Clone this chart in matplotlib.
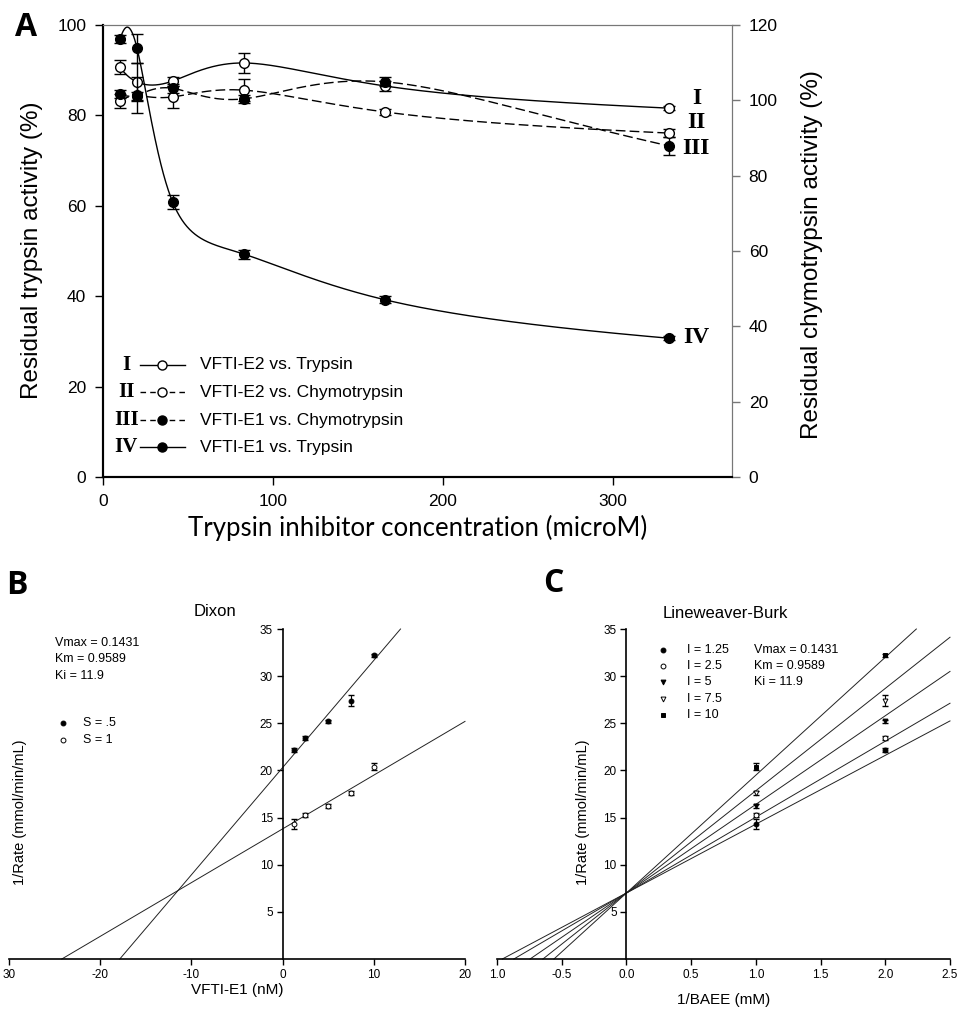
import numpy as np
import matplotlib
matplotlib.use("Agg")
import matplotlib.pyplot as plt
from matplotlib.lines import Line2D

plt.rcParams['font.family'] = ['Liberation Sans', 'DejaVu Sans']
plt.rcParams['axes.unicode_minus'] = False

# ---------------- Data: panel A ----------------
conc = [10, 20, 41, 83, 166, 333]
e2_trypsin = [90.7, 87.4, 87.6, 91.6, 86.5, 81.6]        # left axis
e2_trypsin_err = [1.6, 4.2, 1.0, 2.2, 1.0, 0.5]
e2_chymo = [99.8, 101.2, 100.9, 102.7, 96.9, 91.3]        # right axis
e2_chymo_err = [1.9, 1.0, 3.0, 2.9, 0.8, 1.0]
e1_chymo = [101.7, 101.4, 103.2, 100.4, 104.9, 87.9]      # right axis
e1_chymo_err = [1.0, 4.7, 1.2, 1.1, 1.2, 2.4]
e1_trypsin = [96.9, 94.9, 60.8, 49.3, 39.2, 30.7]         # left axis
e1_trypsin_err = [0.8, 3.2, 1.5, 1.0, 0.8, 0.5]
legend_numerals = ['I', 'II', 'III', 'IV']
legend_labels = ['VFTI-E2 vs. Trypsin', 'VFTI-E2 vs. Chymotrypsin',
                 'VFTI-E1 vs. Chymotrypsin', 'VFTI-E1 vs. Trypsin']

# ---------------- Data: panels B, C ----------------
inhibitor = [1.25, 2.5, 5, 7.5, 10]
rate_S05 = [22.2, 23.4, 25.2, 27.4, 32.2]
rate_S05_err = [0.2, 0.2, 0.2, 0.6, 0.2]
rate_S1 = [14.3, 15.3, 16.2, 17.6, 20.4]
rate_S1_err = [0.5, 0.2, 0.2, 0.2, 0.4]
dixon_intercepts = [20.3, 13.8]     # S = .5, S = 1
dixon_slopes = [1.137, 0.570]
lb_x = [1.0, 2.0]                   # 1/BAEE for S=1 and S=.5
lb_intercept = 7.0
lb_slopes = [7.3, 8.05, 9.4, 10.85, 12.5]  # I = 1.25 ... 10
kin_text = ['Vmax = 0.1431', 'Km = 0.9589', 'Ki = 11.9']

W, H = 958, 1011
fig = plt.figure(figsize=(W / 100, H / 100), dpi=100)
fx = lambda px: px / W
fy = lambda py: 1 - py / H


def natural_spline(x, y, xs):
    x = np.asarray(x, float); y = np.asarray(y, float)
    n = len(x); h = np.diff(x)
    A = np.zeros((n, n)); b = np.zeros(n)
    A[0, 0] = 1; A[-1, -1] = 1
    for i in range(1, n - 1):
        A[i, i - 1] = h[i - 1]; A[i, i] = 2 * (h[i - 1] + h[i]); A[i, i + 1] = h[i]
        b[i] = 3 * ((y[i + 1] - y[i]) / h[i] - (y[i] - y[i - 1]) / h[i - 1])
    c = np.linalg.solve(A, b)
    out = np.empty_like(xs)
    for k, xv in enumerate(xs):
        i = min(max(np.searchsorted(x, xv) - 1, 0), n - 2)
        t = xv - x[i]
        bi = (y[i + 1] - y[i]) / h[i] - h[i] * (2 * c[i] + c[i + 1]) / 3
        di = (c[i + 1] - c[i]) / (3 * h[i])
        out[k] = y[i] + bi * t + c[i] * t ** 2 + di * t ** 3
    return out


def smooth_curve(x, y, n=800):
    # spline through the points, parameterised on log concentration
    lx = np.log10(np.asarray(x, float))
    ls = np.linspace(lx[0], lx[-1], n)
    return 10 ** ls, natural_spline(lx, y, ls)


# ================= Panel A =================
ax = fig.add_axes([fx(103), fy(477), 629 / W, 452 / H])
ax.set_xlim(0, 370)
ax.set_ylim(0, 100)
ax2 = ax.twinx()
ax2.set_ylim(0, 120)

dash = (7, 3)
series = [
    (ax, e2_trypsin, e2_trypsin_err, 'white', None),
    (ax2, e2_chymo, e2_chymo_err, 'white', dash),
    (ax2, e1_chymo, e1_chymo_err, 'black', dash),
    (ax, e1_trypsin, e1_trypsin_err, 'black', None),
]
for a, vals, err, fc, ds in series:
    cx, cy = smooth_curve(conc, vals)
    ln, = a.plot(cx, cy, color='black', lw=1.0, zorder=2)
    if ds:
        ln.set_dashes(ds)
    a.errorbar(conc, vals, yerr=err, fmt='none', ecolor='black', elinewidth=1.0,
               capsize=4.5, capthick=1.0, zorder=3)
    a.plot(conc, vals, 'o', ms=7, mfc=fc, mec='black', mew=1.0, zorder=4)

for a in (ax, ax2):
    a.spines['top'].set_color('#777777')
    a.spines['right'].set_color('#777777')
    a.spines['left'].set_linewidth(1.5)
    a.spines['bottom'].set_linewidth(1.5)
ax.set_xticks([0, 100, 200, 300])
ax.set_yticks([0, 20, 40, 60, 80, 100])
ax2.set_yticks([0, 20, 40, 60, 80, 100, 120])
ax.tick_params(axis='both', direction='out', length=6, width=1, labelsize=12.5, pad=6)
ax2.tick_params(axis='y', direction='out', length=6, width=1, color='#777777',
                labelsize=12.5, pad=6)

serif = ['Liberation Serif', 'DejaVu Serif']
# right-side numerals
for num, yv in zip(['I', 'II', 'III', 'IV'], [83.8, 78.5, 72.6, 30.8]):
    ax.text(349, yv, num, family=serif, fontweight='bold', fontsize=17,
            ha='center', va='center', clip_on=False)

# legend
rows = [0.248, 0.188, 0.126, 0.066]
for (a, vals, err, fc, ds), num, lab, ry in zip(series, legend_numerals, legend_labels, rows):
    ax.text(0.037, ry, num, transform=ax.transAxes, family=serif, fontweight='bold',
            fontsize=15, ha='center', va='center')
    ln, = ax.plot([0.059, 0.130], [ry, ry], transform=ax.transAxes, color='black', lw=1.0)
    if ds:
        ln.set_dashes((4, 3))
    ax.plot([0.094], [ry], 'o', transform=ax.transAxes, ms=6.5, mfc=fc, mec='black', mew=1.0)
    ax.text(0.154, ry, lab, transform=ax.transAxes, fontsize=12.5, ha='left', va='center')

fig.text(fx(32), fy(250), 'Residual trypsin activity (%)', rotation=90,
         ha='center', va='center', fontsize=17.5)
fig.text(fx(812), fy(255), 'Residual chymotrypsin activity (%)', rotation=90,
         ha='center', va='center', fontsize=17.5)
fig.text(fx(418), fy(528), 'Trypsin inhibitor concentration (microM)',
         ha='center', va='center', fontsize=18.5, family=['Lato', 'DejaVu Sans'])

# panel letters
for letter, (px, py) in zip('ABC', [(26, 27), (17, 585), (553, 583)]):
    fig.text(fx(px), fy(py), letter, ha='center', va='center', fontsize=23,
             fontweight='bold', family=['Open Sans', 'DejaVu Sans'])


def style_kinetic(a):
    a.spines['top'].set_visible(False)
    a.spines['right'].set_visible(False)
    a.spines['left'].set_position(('data', 0))
    a.spines['left'].set_linewidth(1.2)
    a.spines['bottom'].set_linewidth(1.2)
    a.set_ylim(0, 35)
    a.set_yticks([5, 10, 15, 20, 25, 30, 35])
    a.tick_params(axis='both', direction='out', length=4, width=1, labelsize=8.5, pad=3)


# ================= Panel B: Dixon =================
axb = fig.add_axes([fx(9), fy(959), 456 / W, 330 / H])
axb.set_xlim(-30, 20)
style_kinetic(axb)
axb.set_xticks([-30, -20, -10, 0, 10, 20])
axb.set_xticklabels(['30', '-20', '-10', '0', '10', '20'])
for icpt, slope in zip(dixon_intercepts, dixon_slopes):
    x0 = -icpt / slope
    x1 = min(20, (35 - icpt) / slope)
    xl = np.array([x0, x1])
    axb.plot(xl, icpt + slope * xl, color='#222222', lw=0.7, clip_on=False)
axb.errorbar(inhibitor, rate_S05, yerr=rate_S05_err, fmt='none', ecolor='black',
             elinewidth=0.8, capsize=2.5)
axb.errorbar(inhibitor, rate_S1, yerr=rate_S1_err, fmt='none', ecolor='black',
             elinewidth=0.8, capsize=2.5)
axb.plot(inhibitor, rate_S05, 'o', ms=3.5, mfc='black', mec='black', mew=0.7)
axb.plot(inhibitor, rate_S1, 'o', ms=3.5, mfc='white', mec='black', mew=0.7)

fig.text(fx(215), fy(612), 'Dixon', ha='center', va='center', fontsize=12)
fig.text(fx(20), fy(812), '1/Rate (mmol/min/mL)', rotation=90, ha='center',
         va='center', fontsize=10.5)
fig.text(fx(237), fy(990), 'VFTI-E1 (nM)', ha='center', va='center', fontsize=11)
for t, py in zip(kin_text, [643, 659, 676]):
    fig.text(fx(55), fy(py), t, ha='left', va='center', fontsize=9)
for (lab, fc), py in zip([('S = .5', 'black'), ('S = 1', 'white')], [723, 740]):
    fig.add_artist(Line2D([fx(63)], [fy(py)], marker='o', ms=3.5, mfc=fc, mec='black',
                          mew=0.7, transform=fig.transFigure))
    fig.text(fx(83), fy(py), lab, ha='left', va='center', fontsize=9)

# ================= Panel C: Lineweaver-Burk =================
axc = fig.add_axes([fx(497), fy(959), 453 / W, 330 / H])
axc.set_xlim(-1.0, 2.5)
style_kinetic(axc)
axc.set_xticks([-1.0, -0.5, 0.0, 0.5, 1.0, 1.5, 2.0, 2.5])
axc.set_xticklabels(['1.0', '-0.5', '0.0', '0.5', '1.0', '1.5', '2.0', '2.5'])
for slope in lb_slopes:
    x0 = -lb_intercept / slope
    x1 = min(2.5, (35 - lb_intercept) / slope)
    xl = np.array([x0, x1])
    axc.plot(xl, lb_intercept + slope * xl, color='#222222', lw=0.7, clip_on=False)

c_markers = ['o', 'o', 'v', 'v', 's']
c_faces = ['black', 'white', 'black', 'white', 'black']
c_labels = ['I = 1.25', 'I = 2.5', 'I = 5', 'I = 7.5', 'I = 10']
for i in range(len(inhibitor)):
    yv = [rate_S1[i], rate_S05[i]]
    ye = [rate_S1_err[i], rate_S05_err[i]]
    axc.errorbar(lb_x, yv, yerr=ye, fmt='none', ecolor='black', elinewidth=0.8, capsize=2.5)
    axc.plot(lb_x, yv, c_markers[i], ms=3.5, mfc=c_faces[i], mec='black', mew=0.7)
for i, py in enumerate([650, 666, 682, 699, 715]):
    fig.add_artist(Line2D([fx(663)], [fy(py)], marker=c_markers[i], ms=3.5, mfc=c_faces[i],
                          mec='black', mew=0.7, transform=fig.transFigure))
    fig.text(fx(687), fy(py), c_labels[i], ha='left', va='center', fontsize=9)
for t, py in zip(kin_text, [650, 666, 682]):
    fig.text(fx(754), fy(py), t, ha='left', va='center', fontsize=9)

fig.text(fx(725), fy(614), 'Lineweaver-Burk', ha='center', va='center', fontsize=12)
fig.text(fx(583), fy(812), '1/Rate (mmol/min/mL)', rotation=90, ha='center',
         va='center', fontsize=10.5)
fig.text(fx(724), fy(1000), '1/BAEE (mM)', ha='center', va='center', fontsize=11)

fig.savefig('out.png', dpi=100)
